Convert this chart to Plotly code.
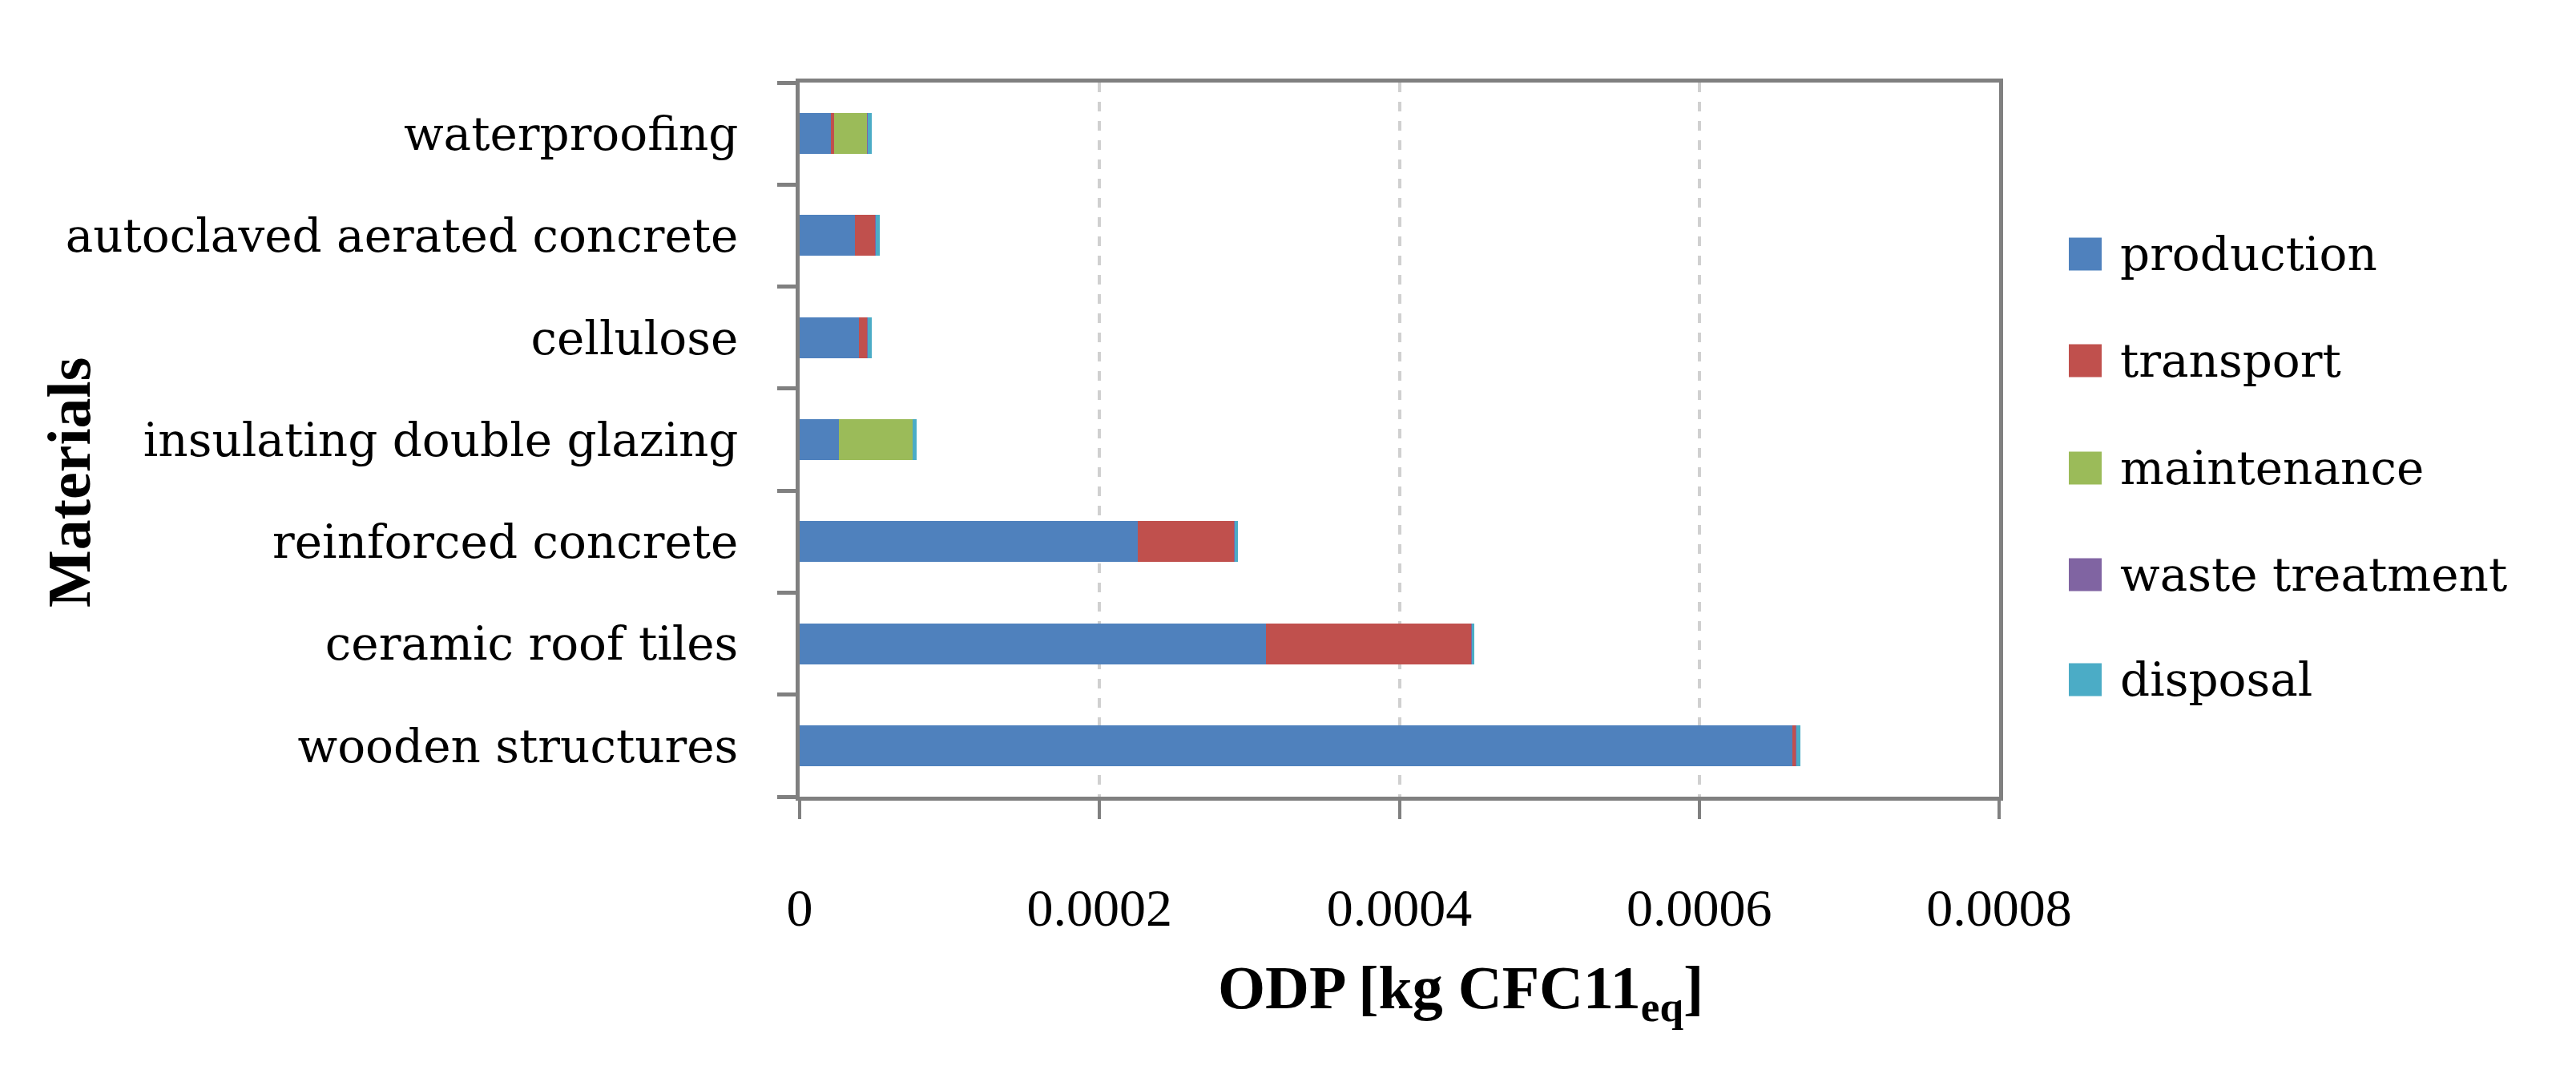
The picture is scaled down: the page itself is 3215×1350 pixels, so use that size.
import plotly.graph_objects as go

# ---- data ----
categories = ["wooden structures", "ceramic roof tiles", "reinforced concrete",
              "insulating double glazing", "cellulose", "autoclaved aerated concrete",
              "waterproofing"]
series_names = ["production", "transport", "maintenance", "waste treatment", "disposal"]
production = [0.000662, 0.000311, 0.0002255, 0.000026, 0.0000397, 0.0000368, 0.0000208]
transport = [0.0000025, 0.000137, 0.0000645, 0.0, 0.0000055, 0.0000139, 0.0000024]
maintenance = [0.0, 0.0, 0.0, 0.0000495, 0.0, 0.0, 0.000022]
waste_treatment = [0.0000001, 0.0000001, 0.0000001, 0.0000001, 0.0000001, 0.0000001, 0.0000001]
disposal = [0.000003, 0.000002, 0.000002, 0.0000024, 0.0000029, 0.0000026, 0.0000029]
x_tickvals = [0, 0.0002, 0.0004, 0.0006, 0.0008]
x_ticktext = ["0", "0.0002", "0.0004", "0.0006", "0.0008"]
colors = ["#4F81BD", "#C0504D", "#9BBB59", "#8064A2", "#4BACC6"]

values = [production, transport, maintenance, waste_treatment, disposal]

W, H = 3215, 1350
L, R, T, B = 990, 2487, 95, 986
PW, PH = R - L, B - T


def px(x):
    return (x - L) / PW


def py(y):
    return (B - y) / PH


fig = go.Figure()
for name, vals, col in zip(series_names, values, colors):
    fig.add_trace(go.Bar(
        y=categories, x=vals, name=name, orientation="h",
        marker=dict(color=col, line=dict(width=0)),
        showlegend=False,
    ))

# manual legend (large square keys)
leg_y = [309, 442, 576, 709, 840]
for name, col, yy in zip(series_names, colors, leg_y):
    fig.add_shape(type="rect", xref="paper", yref="paper",
                  x0=px(2574), x1=px(2615), y0=py(yy + 20.5), y1=py(yy - 20.5),
                  fillcolor=col, line=dict(width=0))
    fig.add_annotation(xref="paper", yref="paper", x=px(2636), y=py(yy),
                       text=name, showarrow=False, xanchor="left", yanchor="middle",
                       font=dict(family="DejaVu Serif", size=58, color="black"))

# axis titles
fig.add_annotation(xref="paper", yref="paper", x=px(1815), y=py(1230),
                   text="<b>ODP [kg CFC11<sub>eq</sub>]</b>", showarrow=False,
                   xanchor="center", yanchor="middle",
                   font=dict(family="Liberation Serif", size=76, color="black"))
fig.add_annotation(xref="paper", yref="paper", x=px(78), y=py(594),
                   text="<b>Materials</b>", showarrow=False, textangle=-90,
                   xanchor="center", yanchor="middle",
                   font=dict(family="Liberation Serif", size=76, color="black"))

axis_col = "#808080"
fig.update_layout(
    width=W, height=H, autosize=False,
    barmode="stack", bargap=0.6,
    paper_bgcolor="white", plot_bgcolor="white",
    margin=dict(l=L, r=W - R, t=T, b=H - B, pad=0),
    xaxis=dict(
        range=[0, 0.0008], tickvals=x_tickvals, ticktext=x_ticktext,
        showgrid=True, gridcolor="#D0D0D0", gridwidth=4, griddash="dash",
        zeroline=False, showline=True, linecolor=axis_col, linewidth=5, mirror=True,
        ticks="outside", ticklen=23, tickwidth=4, tickcolor=axis_col,
        ticklabelstandoff=54,
        tickfont=dict(family="Liberation Serif", size=66, color="black"),
    ),
    yaxis=dict(
        type="category", categoryorder="array", categoryarray=categories,
        showgrid=False, zeroline=False, showline=True, linecolor=axis_col, linewidth=5,
        mirror=True, ticks="outside", tickson="boundaries", ticklen=23, tickwidth=5,
        tickcolor=axis_col, ticklabelstandoff=60,
        tickfont=dict(family="DejaVu Serif", size=58, color="black"),
    ),
)

fig.write_html("out.html")
